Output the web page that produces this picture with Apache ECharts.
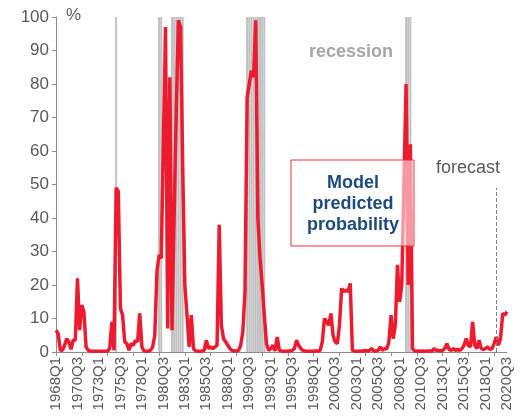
<!DOCTYPE html>
<html>
<head>
<meta charset="utf-8">
<script src="https://cdn.jsdelivr.net/npm/echarts@6/dist/echarts.min.js"></script>
<style>html,body{margin:0;padding:0;background:#fff}#c{width:520px;height:419px}</style>
</head>
<body>
<div id="c"></div>
<script>
// Quarterly categories 1968Q1 .. 2020Q3
const startYear = 1968;
const quarterCount = 211;
const categories = [];
for (let k = 0; k < quarterCount; k++) {
  categories.push((startYear + Math.floor(k / 4)) + 'Q' + (k % 4 + 1));
}

// Model predicted probability of recession (%)
const probability = [
  6.5, 5.5, 0.5, 0.5, 2, 4, 3, 0.8, 3.5, 3.5,
  22, 6.5, 14, 12, 1.5, 0.5, 0.3, 0.2, 0.2, 0.2,
  0.2, 0.2, 0.2, 0.2, 0.3, 1, 9, 0.5, 49, 48,
  13, 11, 3, 2.5, 0.5, 2.5, 2, 3.5, 3, 11.5,
  1.5, 0.3, 0.2, 0.3, 0.5, 1.5, 5, 24, 29, 28,
  62, 97, 7, 82, 6.5, 40, 72, 99, 97, 55,
  20, 11, 1.5, 11, 1, 0.3, 0.2, 0.2, 0.3, 0.5,
  3.5, 1, 1.5, 1, 1.5, 2, 38, 8, 4, 3,
  2, 1, 0.5, 0.3, 0.3, 0.5, 2, 6, 18, 76,
  80, 84, 82, 99, 40, 28, 20, 11, 2.5, 0.5,
  1, 2, 0.3, 4.5, 0.5, 0.3, 0.2, 0.2, 0.3, 0.3,
  0.5, 1, 3.5, 2, 1, 0.5, 0.3, 0.2, 0.2, 0.2,
  0.2, 0.3, 0.3, 0.5, 3, 10, 9, 8, 11.5, 5,
  3, 2.5, 8, 19, 18, 18.5, 18, 20.5, 0.5, 0.3,
  0.2, 0.2, 0.3, 0.3, 0.5, 0.3, 0.5, 1, 0.3, 0.3,
  0.5, 1.5, 0.5, 1, 1, 3, 11, 4, 8, 26,
  15, 20, 50, 80, 20, 62, 1, 0.3, 0.2, 0.3,
  0.2, 0.3, 0.2, 0.3, 0.3, 0.2, 1, 0.5, 0.5, 0.3,
  0.5, 1, 2.5, 0.8, 0.5, 1, 0.5, 0.8, 0.5, 1,
  2, 4, 2, 1.5, 9, 2, 1, 3.5, 1, 0.8,
  1, 1.5, 0.8, 1, 2.5, 4.5, 2, 4, 11.5, 11,
  12
];

// Recession quarters (grey bands)
const recessionQuarters = [
  '1975Q1',
  '1980Q1', '1980Q2',
  '1981Q3', '1981Q4', '1982Q1', '1982Q2', '1982Q3', '1982Q4',
  '1990Q2', '1990Q3', '1990Q4', '1991Q1', '1991Q2', '1991Q3', '1991Q4', '1992Q1', '1992Q2',
  '2008Q4', '2009Q1', '2009Q2'
];
const forecastStart = '2019Q2';
const forecastLineTop = 49;

const yTicks = { min: 0, max: 100, interval: 10 };

const recessionBars = categories.map(c => recessionQuarters.indexOf(c) >= 0 ? 100 : '-');

const font = "'Liberation Sans', Arial, sans-serif";
const chart = echarts.init(document.getElementById('c'), null, { renderer: 'canvas' });
chart.setOption({
  animation: false,
  textStyle: { fontFamily: font },
  grid: { left: 56, right: 13, top: 17, bottom: 67, containLabel: false },
  xAxis: {
    type: 'category',
    data: categories,
    boundaryGap: false,
    axisLine: { lineStyle: { color: '#8c8c8c', width: 1 } },
    axisTick: { show: true, interval: 11, length: 4, lineStyle: { color: '#8c8c8c' } },
    axisLabel: { interval: 9, rotate: 90, fontSize: 15, color: '#595959', margin: 5, fontFamily: font },
    splitLine: { show: false }
  },
  yAxis: {
    type: 'value',
    min: yTicks.min, max: yTicks.max, interval: yTicks.interval,
    axisLine: { show: true, lineStyle: { color: '#8c8c8c', width: 1 } },
    axisTick: { show: true, length: 4, lineStyle: { color: '#8c8c8c' } },
    axisLabel: { fontSize: 17, color: '#595959', margin: 7, fontFamily: font },
    splitLine: { show: false }
  },
  series: [
    {
      type: 'bar',
      data: recessionBars,
      barWidth: '92%',
      itemStyle: { color: '#c0c0c0' },
      silent: true,
      z: 1
    },
    {
      type: 'line',
      data: probability,
      symbol: 'none',
      lineStyle: { color: '#ed1b2f', width: 3.5 },
      z: 3,
      markLine: {
        silent: true,
        symbol: 'none',
        label: { show: false },
        lineStyle: { color: '#7f7f7f', type: 'dashed', width: 1 },
        data: [[{ coord: [forecastStart, 0] }, { coord: [forecastStart, forecastLineTop] }]]
      }
    }
  ],
  graphic: [
    { type: 'text', left: 66, top: 7, z: 100, style: { text: '%', fontSize: 17, fill: '#595959', fontFamily: font } },
    { type: 'text', x: 351, y: 52, z: 100, style: { text: 'recession', fontSize: 18, fontWeight: 'bold', fill: '#a6a6a6', fontFamily: font, align: 'center', verticalAlign: 'middle' } },
    { type: 'text', x: 468, y: 168, z: 100, style: { text: 'forecast', fontSize: 18, fill: '#595959', fontFamily: font, align: 'center', verticalAlign: 'middle' } },
    { type: 'rect', z: 100, shape: { x: 291, y: 160, width: 123, height: 86 }, style: { fill: 'rgba(255,255,255,0.55)', stroke: '#e8313f', lineWidth: 1 } },
    { type: 'text', x: 353, y: 204, z: 101, style: { text: 'Model\npredicted\nprobability', fontSize: 18, lineHeight: 21, fontWeight: 'bold', fill: '#1f497d', fontFamily: font, align: 'center', verticalAlign: 'middle' } }
  ]
});
</script>
</body>
</html>
